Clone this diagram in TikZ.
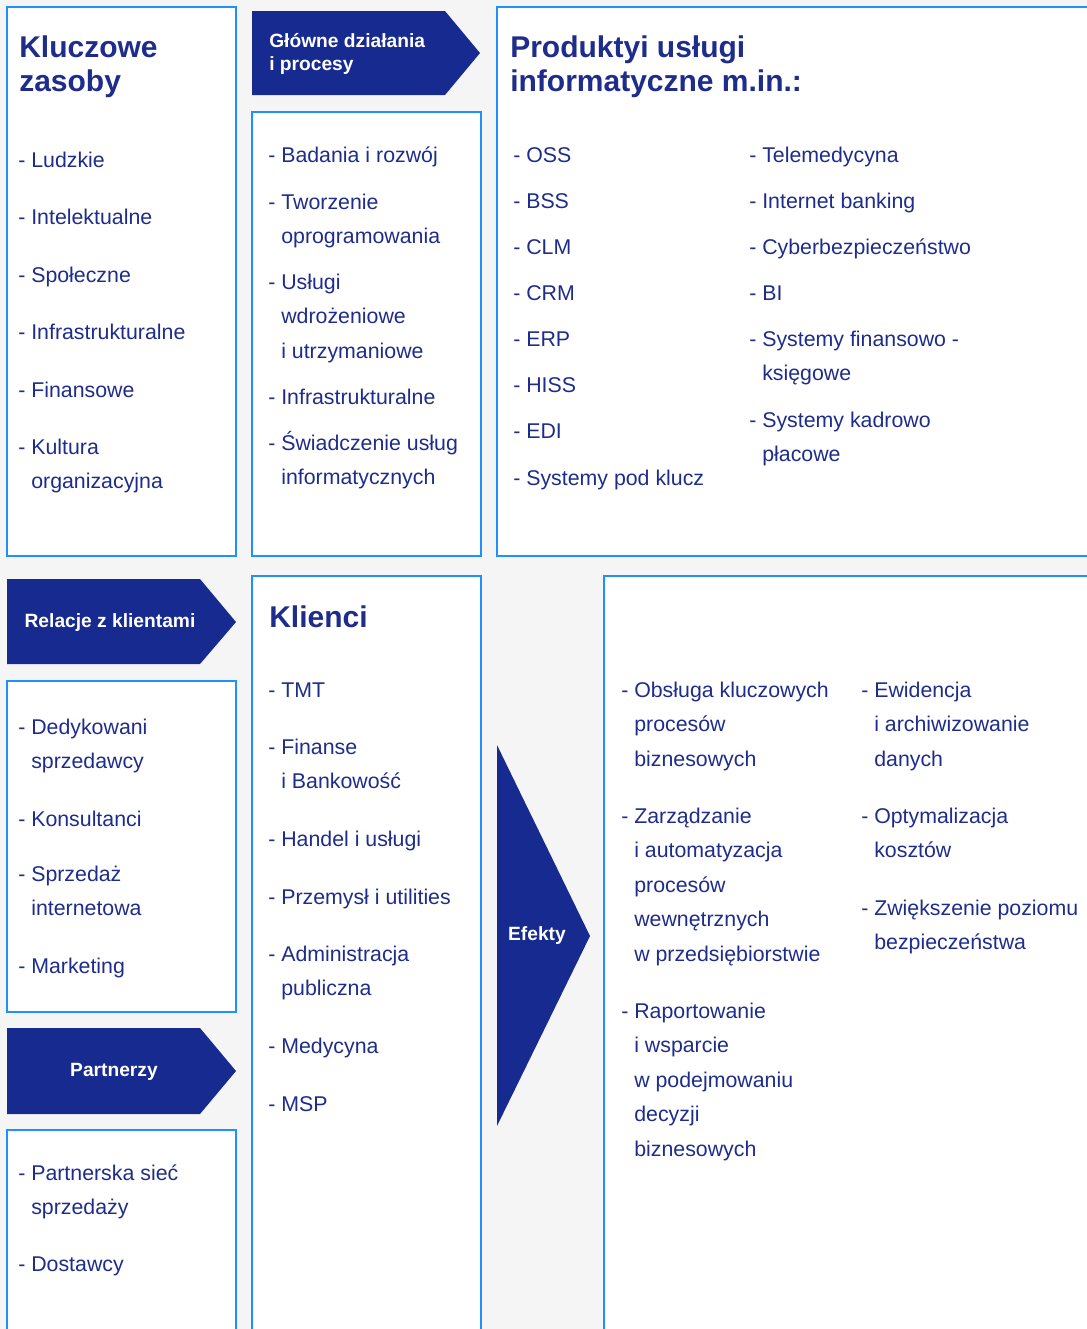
\documentclass[tikz,border=0pt]{standalone}
\usepackage{fontspec}
\setmainfont{Liberation Sans}
\usepackage{tikz}
\usetikzlibrary{positioning}

\definecolor{navy}{RGB}{23,42,143}
\definecolor{ink}{RGB}{30,45,140}
\definecolor{edge}{RGB}{30,144,255}
\definecolor{bg}{RGB}{245,245,245}

\newlength{\dashw}
\newcommand{\body}{\fontsize{16}{25.9}\selectfont}
\newcommand{\li}[1]{\settowidth{\dashw}{- }\parbox[t]{12cm}{\hangindent=\dashw\hangafter=1 - #1}}

\tikzset{
  panel/.style={draw=edge, fill=white, line width=1.5pt},
  tag/.style={fill=navy},
  item/.style={anchor=base west, inner sep=0pt, text=ink, font=\body},
  title/.style={anchor=base west, inner sep=0pt, text=ink, font=\fontsize{22.5}{25.5}\selectfont\bfseries},
  taglabel/.style={inner sep=0pt, text=white, font=\fontsize{14.4}{17.5}\selectfont\bfseries}
}

\begin{document}
\begin{tikzpicture}[x=0.75pt,y=-0.75pt]
    \clip (0,0) rectangle (1087,1329);
    \fill[bg] (0,0) rectangle (1087,1329);

    % panels
    \draw[panel] (7,7) rectangle (236,556);
    \draw[panel] (252,112) rectangle (481,556);
    \draw[panel] (497,7) rectangle (1100,556);
    \draw[panel] (7,681) rectangle (236,1012);
    \draw[panel] (7,1130) rectangle (236,1340);
    \draw[panel] (252,576) rectangle (481,1340);
    \draw[panel] (604,576) rectangle (1100,1340);

    % arrow tags
    \fill[tag] (252,11) -- (445,11) -- (480,53) -- (445,95) -- (252,95) -- cycle;
    \fill[tag] (7,579) -- (200,579) -- (236,622) -- (200,664) -- (7,664) -- cycle;
    \fill[tag] (7,1028) -- (200,1028) -- (236,1071) -- (200,1114) -- (7,1114) -- cycle;
    \fill[tag] (497,745) -- (590,936) -- (497,1126) -- cycle;

    \node[taglabel, anchor=base west] (dzialania) at (269,47)
        {\parbox[t]{6cm}{G\l{}ówne działania\\i procesy}};
    \node[taglabel, anchor=base] (relacje) at (110,627) {Relacje z klientami};
    \node[taglabel, anchor=base] (partnerzy) at (114,1076) {Partnerzy};
    \node[taglabel, anchor=base] (efekty) at (537,940) {Efekty};

    % titles
    \node[title] (zasoby) at (19,57) {\parbox[t]{6cm}{Kluczowe\\zasoby}};
    \node[title] (produkty) at (510,57) {\parbox[t]{12cm}{Produktyi usługi\\informatyczne m.in.:}};
    \node[title] (klienci) at (269,627) {Klienci};

    % Kluczowe zasoby
    \foreach \y/\t [count=\i] in {167/Ludzkie, 224/Intelektualne, 282/Społeczne,
        339/Infrastrukturalne, 397/Finansowe, 454/{Kultura\\organizacyjna}}
        \node[item] (kz\i) at (18,\y) {\li{\t}};

    % Glowne dzialania
    \foreach \y/\t [count=\i] in {162/Badania i rozwój, 209/{Tworzenie\\oprogramowania},
        289/{Usługi\\wdrożeniowe\\i utrzymaniowe}, 404/Infrastrukturalne,
        450/{Świadczenie usług\\informatycznych}}
        \node[item] (gd\i) at (268,\y) {\li{\t}};

    % Produkty
    \foreach \y/\t [count=\i] in {162/OSS, 208/BSS, 254/CLM, 300/CRM, 346/ERP,
        392/HISS, 438/EDI, 485/Systemy pod klucz}
        \node[item] (pa\i) at (513,\y) {\li{\t}};
    \foreach \y/\t [count=\i] in {162/Telemedycyna, 208/Internet banking,
        254/Cyberbezpieczeństwo, 300/BI, 346/{Systemy finansowo -\\księgowe},
        427/{Systemy kadrowo\\płacowe}}
        \node[item] (pb\i) at (749,\y) {\li{\t}};

    % Relacje z klientami
    \foreach \y/\t [count=\i] in {734/{Dedykowani\\sprzedawcy}, 826/Konsultanci,
        881/{Sprzedaż\\internetowa}, 973/Marketing}
        \node[item] (rk\i) at (18,\y) {\li{\t}};

    % Partnerzy
    \foreach \y/\t [count=\i] in {1180/{Partnerska sieć\\sprzedaży}, 1271/Dostawcy}
        \node[item] (pt\i) at (18,\y) {\li{\t}};

    % Klienci
    \foreach \y/\t [count=\i] in {697/TMT, 754/{Finanse\\i Bankowość}, 846/Handel i usługi,
        904/Przemysł i utilities, 961/{Administracja\\publiczna}, 1053/Medycyna, 1111/MSP}
        \node[item] (kl\i) at (268,\y) {\li{\t}};

    % Efekty
    \foreach \y/\t [count=\i] in {697/{Obsługa kluczowych\\procesów\\biznesowych},
        823/{Zarządzanie\\i automatyzacja\\procesów\\wewnętrznych\\w przedsiębiorstwie},
        1018/{Raportowanie\\i wsparcie\\w podejmowaniu\\decyzji\\biznesowych}}
        \node[item] (ea\i) at (621,\y) {\li{\t}};
    \foreach \y/\t [count=\i] in {697/{Ewidencja\\i archiwizowanie\\danych},
        823/{Optymalizacja\\kosztów}, 915/{Zwiększenie poziomu\\bezpieczeństwa}}
        \node[item] (eb\i) at (861,\y) {\li{\t}};
\end{tikzpicture}
\end{document}
